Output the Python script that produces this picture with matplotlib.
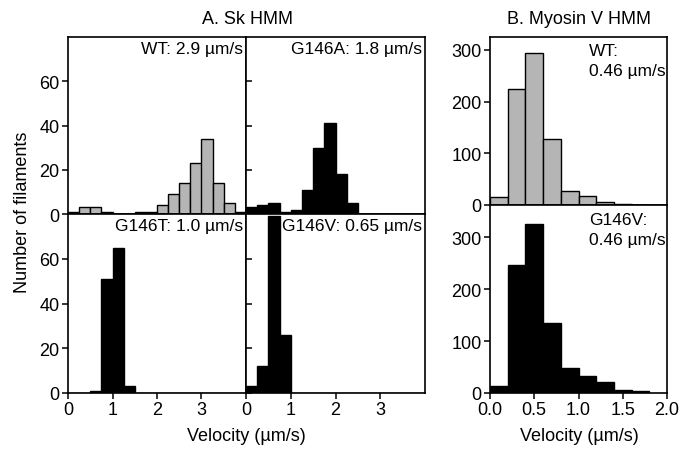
import matplotlib
matplotlib.use("Agg")
import matplotlib.pyplot as plt

plt.rcParams["font.family"] = ["Liberation Sans", "DejaVu Sans"]

# panel A: Sk HMM, bins of 0.25 um/s
a_edges = [0.0, 0.25, 0.5, 0.75, 1.0, 1.25, 1.5, 1.75,
           2.0, 2.25, 2.5, 2.75, 3.0, 3.25, 3.5, 3.75]
wt_a = [1, 3, 3, 1, 0, 0, 1, 1, 4, 9, 14, 23, 34, 14, 5, 1]
g146a = [3, 4, 5, 1, 2, 11, 30, 41, 18, 5, 0, 0, 0, 0, 0, 0]
g146t = [0, 0, 1, 51, 65, 3, 0, 0, 0, 0, 0, 0, 0, 0, 0, 0]
g146v_a = [3, 12, 79, 26, 0, 0, 0, 0, 0, 0, 0, 0, 0, 0, 0, 0]

# panel B: myosin V HMM, bins of 0.2 um/s
b_edges = [0.0, 0.2, 0.4, 0.6, 0.8, 1.0, 1.2, 1.4, 1.6]
wt_b = [15, 225, 295, 127, 28, 17, 5, 2, 0]
g146v_b = [14, 247, 326, 135, 49, 32, 22, 6, 3]

a_labels = ["WT: 2.9 \u00b5m/s", "G146A: 1.8 \u00b5m/s",
            "G146T: 1.0 \u00b5m/s", "G146V: 0.65 \u00b5m/s"]
b_labels = ["WT:\n0.46 \u00b5m/s", "G146V:\n0.46 \u00b5m/s"]

gray = "#b5b5b5"
W, H = 681, 460
fig = plt.figure(figsize=(W / 100, H / 100), dpi=100)


def box(x0, y0, x1, y1):
    # pixel box (top-left origin) -> figure fraction
    return [x0 / W, 1 - y1 / H, (x1 - x0) / W, (y1 - y0) / H]


def style(ax, lw=1.2):
    for s in ax.spines.values():
        s.set_linewidth(lw)
    ax.tick_params(labelsize=13, width=1.1, length=4, pad=2)


# ---- A panels
ax_tl = fig.add_axes(box(68, 38, 246, 215))
ax_tr = fig.add_axes(box(246, 38, 425, 215))
ax_bl = fig.add_axes(box(68, 215, 246, 394))
ax_br = fig.add_axes(box(246, 215, 425, 394))

panels = [(ax_tl, wt_a, gray), (ax_tr, g146a, "black"),
          (ax_bl, g146t, "black"), (ax_br, g146v_a, "black")]
for (ax, vals, col), lab in zip(panels, a_labels):
    ax.bar(a_edges, vals, width=0.25, align="edge", color=col,
           edgecolor="black", linewidth=1.0)
    ax.set_xlim(0, 4)
    ax.set_ylim(0, 80)
    ax.set_yticks([0, 20, 40, 60])
    ax.set_xticks([0, 1, 2, 3])
    style(ax)
    ax.text(0.985, 0.975, lab, transform=ax.transAxes, ha="right", va="top",
            fontsize=12.5)

for ax in (ax_tl, ax_tr):
    ax.tick_params(axis="x", bottom=False, labelbottom=False)
for ax in (ax_tr, ax_br):
    ax.tick_params(axis="y", direction="in", labelleft=False)

# ---- B panels
ax_bt = fig.add_axes(box(490, 38, 667, 206))
ax_bb = fig.add_axes(box(490, 206, 667, 394))
for ax, vals, col, lab, top in [(ax_bt, wt_b, gray, b_labels[0], 325),
                                (ax_bb, g146v_b, "black", b_labels[1], 362)]:
    ax.bar(b_edges, vals, width=0.2, align="edge", color=col,
           edgecolor="black", linewidth=1.0)
    ax.set_xlim(0, 2)
    ax.set_ylim(0, top)
    ax.set_yticks([0, 100, 200, 300])
    ax.set_xticks([0.0, 0.5, 1.0, 1.5, 2.0])
    ax.set_xticklabels(["0.0", "0.5", "1.0", "1.5", "2.0"])
    style(ax)
    ax.text(0.56, 0.965, lab, transform=ax.transAxes, ha="left", va="top",
            fontsize=12.5, linespacing=1.45)
ax_bt.tick_params(axis="x", bottom=False, labelbottom=False)

# ---- titles and labels
fig.text(247 / W, 1 - 20 / H, "A. Sk HMM", ha="center", va="center", fontsize=13)
fig.text(579 / W, 1 - 20 / H, "B. Myosin V HMM", ha="center", va="center", fontsize=13)
fig.text(23 / W, 1 - 212 / H, "Number of filaments", rotation=90,
         ha="center", va="center", fontsize=13)
fig.text(246 / W, 1 - 437 / H, "Velocity (\u00b5m/s)", ha="center", va="center", fontsize=13)
fig.text(579 / W, 1 - 437 / H, "Velocity (\u00b5m/s)", ha="center", va="center", fontsize=13)

fig.savefig("out.png", dpi=100)
